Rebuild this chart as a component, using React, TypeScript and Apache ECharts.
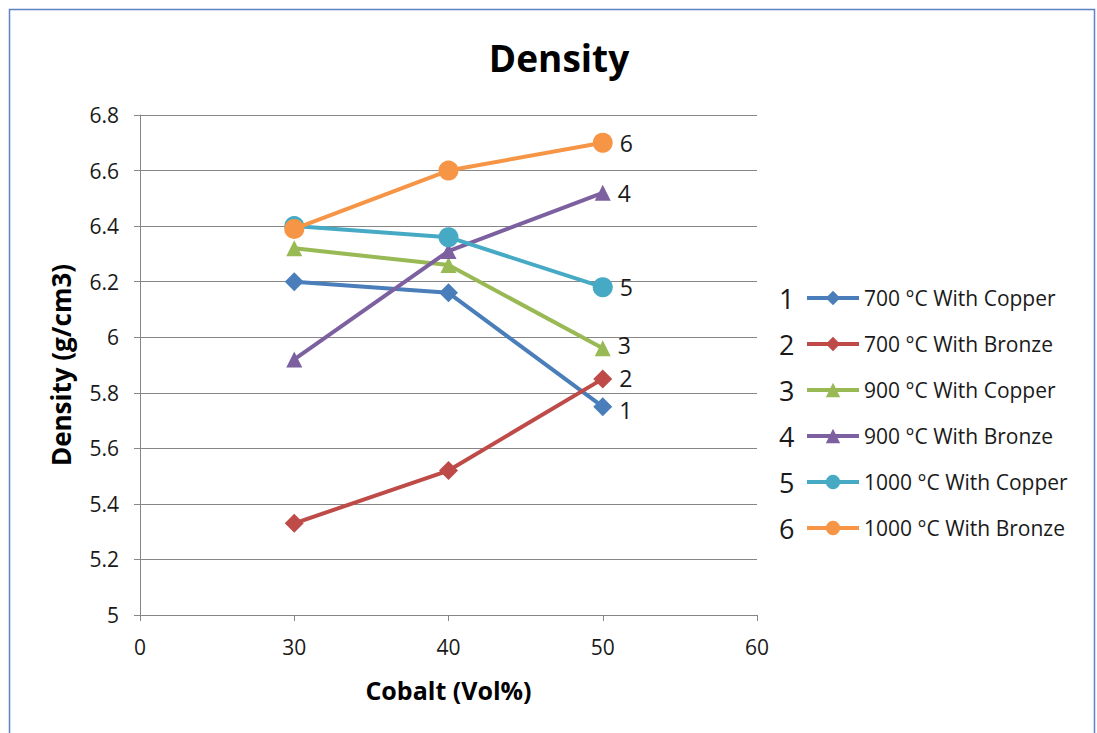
import React, { useEffect, useRef } from "react";
import * as echarts from "echarts";

const categories = ["0", "30", "40", "50", "60"];
const seriesNames = [
  "700 °C With Copper",
  "700 °C With Bronze",
  "900 °C With Copper",
  "900 °C With Bronze",
  "1000 °C With Copper",
  "1000 °C With Bronze",
];
const s1 = [null, 6.2, 6.16, 5.75, null];
const s2 = [null, 5.33, 5.52, 5.85, null];
const s3 = [null, 6.32, 6.26, 5.96, null];
const s4 = [null, 5.92, 6.31, 6.52, null];
const s5 = [null, 6.4, 6.36, 6.18, null];
const s6 = [null, 6.39, 6.6, 6.7, null];
const seriesData = [s1, s2, s3, s4, s5, s6];
const colors = ["#4a7ebb", "#be4b48", "#98b954", "#7d60a0", "#46aac5", "#f69546"];
const symbols = ["diamond", "diamond", "triangle", "triangle", "circle", "circle"];
const symbolSizes = [19, 19, 16, 16, 20, 20];
const endLabels = ["1", "2", "3", "4", "5", "6"];
const endLabelNudge = [3, -1, -3, 0, 0, 0];

const FONT = "'Open Sans', sans-serif";

export default function App() {
  const ref = useRef<HTMLDivElement>(null);
  useEffect(() => {
    const chart = echarts.init(ref.current!, undefined, { renderer: "svg" });
    const legendFirst = 298;
    const legendStep = 46;
    chart.setOption({
      animation: false,
      backgroundColor: "#ffffff",
      color: colors,
      title: {
        text: "Density",
        left: 554,
        top: 34,
        textAlign: "center",
        textStyle: { fontFamily: FONT, fontSize: 37, fontWeight: "bold", color: "#000" },
      },
      grid: { left: 140, right: 340, top: 115, bottom: 118 },
      legend: {
        orient: "vertical",
        left: 800,
        top: legendFirst - 11 - 5,
        itemWidth: 52,
        itemHeight: 18,
        itemGap: 24,
        data: seriesNames,
        lineStyle: { width: 4 },
        textStyle: { fontFamily: FONT, fontSize: 21, color: "#1a1a1a", height: 22, lineHeight: 22 },
      },
      graphic: [
        {
          type: "rect",
          shape: { x: 9.5, y: 9.5, width: 1085, height: 760 },
          style: { fill: "none", stroke: "#5b84c4", lineWidth: 1.5 },
          silent: true,
        },
        ...endLabels.map((t, i) => ({
          type: "text",
          x: 779,
          y: legendFirst + i * legendStep,
          style: {
            text: t,
            fontFamily: FONT,
            fontSize: 27,
            fill: "#1a1a1a",
            verticalAlign: "middle",
            align: "left",
          },
        })),
      ],
      xAxis: {
        type: "category",
        data: categories,
        boundaryGap: false,
        name: "Cobalt (Vol%)",
        nameLocation: "middle",
        nameGap: 62,
        nameTextStyle: { fontFamily: FONT, fontSize: 25, fontWeight: "bold", color: "#000" },
        axisLine: { lineStyle: { color: "#868686", width: 1 } },
        axisTick: { show: true, length: 6, lineStyle: { color: "#868686" } },
        axisLabel: { fontFamily: FONT, fontSize: 21, color: "#1a1a1a", margin: 21 },
        splitLine: { show: false },
      },
      yAxis: {
        type: "value",
        min: 5,
        max: 6.8,
        interval: 0.2,
        name: "Density (g/cm3)",
        nameLocation: "middle",
        nameGap: 66,
        nameRotate: 90,
        nameTextStyle: { fontFamily: FONT, fontSize: 26, fontWeight: "bold", color: "#000" },
        axisLine: { show: true, lineStyle: { color: "#868686", width: 1 } },
        axisTick: { show: true, length: 6, inside: false, lineStyle: { color: "#868686" } },
        axisLabel: { fontFamily: FONT, fontSize: 21, color: "#1a1a1a", margin: 21 },
        splitLine: { show: true, lineStyle: { color: "#868686", width: 1 } },
      },
      series: seriesData.map((d, i) => ({
        name: seriesNames[i],
        type: "line",
        data: d.map((v, j) =>
          j === 3
            ? {
                value: v,
                label: {
                  show: true,
                  position: "right",
                  distance: 7,
                  offset: [0, endLabelNudge[i]],
                  formatter: endLabels[i],
                  fontFamily: FONT,
                  fontSize: 23,
                  lineHeight: 20,
                  color: "#1a1a1a",
                },
              }
            : v
        ),
        symbol: symbols[i],
        symbolSize: symbolSizes[i],
        showSymbol: true,
        connectNulls: false,
        lineStyle: { width: 4, color: colors[i] },
        itemStyle: { color: colors[i] },
        z: 2 + i,
      })),
    });
    return () => chart.dispose();
  }, []);
  return (
    <div
      ref={ref}
      style={{ position: "absolute", left: 0, top: 0, width: 1097, height: 733 }}
    />
  );
}
